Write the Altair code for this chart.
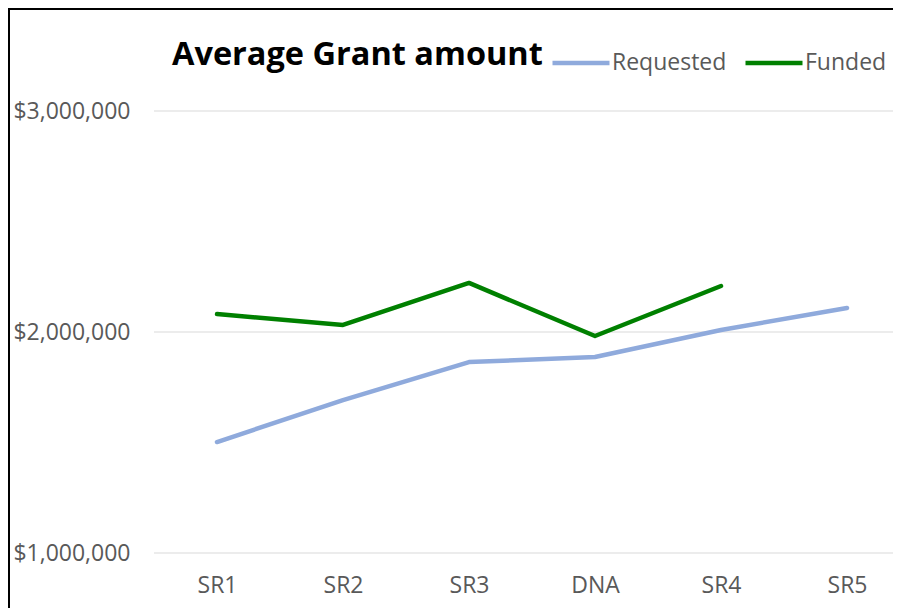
import altair as alt
import pandas as pd

categories = ["SR1", "SR2", "SR3", "DNA", "SR4", "SR5"]
series_names = ["Requested", "Funded"]
requested = [1502000, 1692000, 1864000, 1887000, 2009000, 2109000]
funded = [2081000, 2032000, 2222000, 1982000, 2208000]
colors = ["#8FAADC", "#008000"]
y_ticks = [1000000, 2000000, 3000000]
title_text = "Average Grant amount"

rows = []
for c, v in zip(categories, requested):
    rows.append({"cat": c, "series": "Requested", "value": v})
for c, v in zip(categories, funded):
    rows.append({"cat": c, "series": "Funded", "value": v})
df = pd.DataFrame(rows)
grid_df = pd.DataFrame({"value": y_ticks})

FONT = "Open Sans"
GRAY = "#595959"
W, H = 739, 442

x_enc = alt.X(
    "cat:N", sort=categories,
    scale=alt.Scale(type="point", padding=0, range=[63, 693]),
    axis=alt.Axis(title=None, domain=False, ticks=False, grid=False, labelAngle=0,
                  labelFontSize=23, labelColor=GRAY, labelFont=FONT, labelPadding=21),
)
y_scale = alt.Scale(domain=[1000000, 3000000], nice=False, zero=False)
y_enc = alt.Y(
    "value:Q", scale=y_scale,
    axis=alt.Axis(title=None, values=y_ticks, format="$,.0f", domain=False, ticks=False,
                  grid=False, labelFontSize=23, labelColor=GRAY, labelFont=FONT,
                  labelPadding=24),
)

grid = alt.Chart(grid_df).mark_rule(color="#D9D9D9", strokeWidth=1, clip=False).encode(
    y=alt.Y("value:Q", scale=y_scale), x=alt.value(0), x2=alt.value(W)
)

lines = alt.Chart(df).mark_line(strokeWidth=4.5, strokeCap="round", strokeJoin="round").encode(
    x=x_enc, y=y_enc,
    color=alt.Color(
        "series:N", sort=series_names,
        scale=alt.Scale(domain=series_names, range=colors),
        legend=alt.Legend(title=None, orient="none", legendX=396, legendY=-79,
                          direction="horizontal", symbolType="stroke", symbolSize=3249,
                          symbolStrokeWidth=4.5, labelFontSize=23, labelColor=GRAY,
                          labelFont=FONT, labelOffset=0, columnPadding=9, padding=0),
    ),
)

title = alt.Chart(pd.DataFrame({"t": [title_text]})).mark_text(
    align="left", baseline="alphabetic", fontSize=32.5, font=FONT, fontWeight="bold",
    color="black", clip=False,
).encode(x=alt.value(18), y=alt.value(-46), text="t:N")

one = pd.DataFrame({"a": [0]})
border_left = alt.Chart(one).mark_rule(color="black", strokeWidth=2, clip=False).encode(
    x=alt.value(-145), y=alt.value(-102), y2=alt.value(520)
)
border_top = alt.Chart(one).mark_rule(color="black", strokeWidth=2, clip=False).encode(
    x=alt.value(-146), x2=alt.value(760), y=alt.value(-102)
)

chart = alt.layer(border_left, border_top, grid, lines, title).properties(
    width=W, height=H,
    autosize=alt.AutoSizeParams(type="none"),
    padding={"left": 146, "top": 103, "right": 0, "bottom": 55},
    background="white",
).configure_view(stroke=None)

chart.save("out.html", embed_options={"renderer": "svg", "actions": False})
